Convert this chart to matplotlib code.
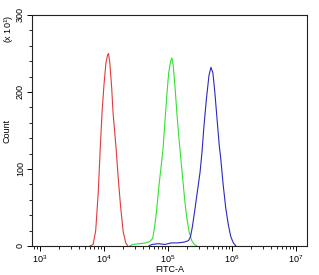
import numpy as np
import matplotlib
matplotlib.use("Agg")
import matplotlib.pyplot as plt
from matplotlib.ticker import LogLocator, MultipleLocator, FixedLocator

plt.rcParams['font.family'] = ['Liberation Sans', 'DejaVu Sans']
plt.rcParams['mathtext.fontset'] = 'custom'
plt.rcParams['mathtext.rm'] = 'Liberation Sans'

# histogram outlines, log10(FITC-A) vs count (x10)
red_log = [3.78, 3.83, 3.87, 3.91, 3.94, 3.97, 4.00, 4.03, 4.055, 4.07, 4.09,
           4.12, 4.14, 4.17, 4.19, 4.22, 4.26, 4.30, 4.34, 4.37]
red_cnt = [0, 2, 20, 70, 125, 175, 210, 238, 248, 250, 238,
           205, 174, 145, 125, 90, 50, 18, 4, 0]

green_log = [4.40, 4.45, 4.55, 4.65, 4.72, 4.76, 4.79, 4.82, 4.86, 4.90, 4.92,
             4.95, 4.98, 5.01, 5.04, 5.06, 5.08, 5.11, 5.14, 5.17, 5.19, 5.22,
             5.26, 5.29, 5.33, 5.37, 5.41, 5.45]
green_cnt = [0, 2, 3, 4, 6, 10, 25, 45, 80, 110, 125,
             160, 195, 225, 240, 244, 235, 205, 170, 140, 122, 95,
             60, 38, 18, 7, 2, 0]

blue_log = [4.70, 4.75, 4.85, 4.95, 5.05, 5.15, 5.25, 5.32, 5.35, 5.38, 5.42,
            5.46, 5.50, 5.53, 5.56, 5.60, 5.64, 5.67, 5.70, 5.73, 5.77, 5.80,
            5.82, 5.86, 5.90, 5.94, 5.98, 6.02, 6.06]
blue_cnt = [0, 2, 3, 2, 4, 4, 5, 7, 12, 25, 48,
            72, 96, 122, 155, 192, 222, 232, 225, 200, 160, 130,
            116, 80, 50, 28, 12, 4, 0]

y_ticks = [0, 100, 200, 300]

fig = plt.figure(figsize=(3.19, 2.75), dpi=100)
ax = fig.add_axes([0.1003, 0.1055, 0.8621, 0.84])

ax.plot(10 ** np.array(red_log), red_cnt, color='#e23a3e', lw=0.8)
ax.plot(10 ** np.array(green_log), green_cnt, color='#33e033', lw=0.8)
ax.plot(10 ** np.array(blue_log), blue_cnt, color='#2a2ac0', lw=0.8)

ax.set_xscale('log')
ax.set_xlim(10 ** 2.875, 10 ** 7.17)
ax.set_ylim(0, 300)

ax.xaxis.set_major_locator(LogLocator(base=10, numticks=10))
ax.xaxis.set_minor_locator(LogLocator(base=10, subs=np.arange(2, 10), numticks=20))
ax.yaxis.set_major_locator(FixedLocator(y_ticks))
ax.yaxis.set_minor_locator(MultipleLocator(20))

ax.tick_params(axis='both', which='major', length=3.5, width=0.7, labelsize=6.5, pad=1.5)
ax.tick_params(axis='both', which='minor', length=2, width=0.6)
plt.setp(ax.get_yticklabels(), rotation=90, va='center')

for sp in ax.spines.values():
    sp.set_linewidth(0.8)
    sp.set_color('#222222')

ax.set_xlabel('FITC-A', fontsize=6.5, labelpad=0.5)
ax.set_ylabel('Count', fontsize=6.5, labelpad=3)
fig.text(0.028, 0.945, '(x 10$^1$)', rotation=90, ha='center', va='top', fontsize=6.5)

fig.savefig('out.png', dpi=100, facecolor='white')
